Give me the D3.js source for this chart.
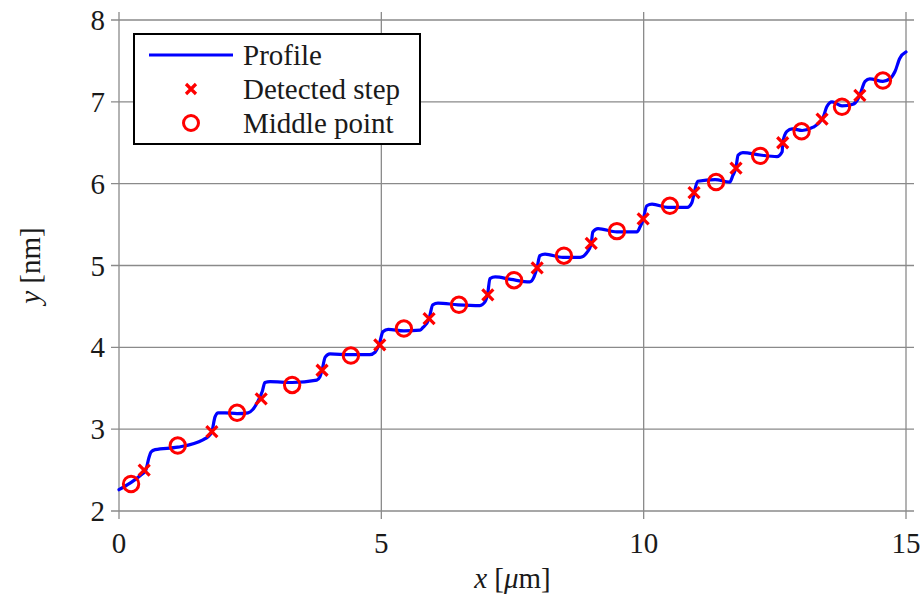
<!DOCTYPE html>
<html><head><meta charset="utf-8"><script src="https://cdn.jsdelivr.net/npm/d3@7"></script></head>
<body style="margin:0">
<svg id="s" width="923" height="596"></svg>
<script>
// ---- data ----
const profileX = [0, 0.21, 0.40, 0.51, 0.57, 0.61, 0.69, 1.12, 1.60, 1.70, 1.77, 1.83, 1.89, 2.02, 2.25, 2.46, 2.55, 2.67, 2.73, 2.78, 2.88, 3.30, 3.77, 3.83, 3.87, 3.93, 4.02, 4.40, 4.78, 4.88, 4.96, 5.03, 5.13, 5.43, 5.74, 5.79, 5.91, 5.98, 6.08, 6.46, 6.88, 6.98, 7.03, 7.07, 7.17, 7.47, 7.83, 7.91, 7.97, 8.02, 8.12, 8.46, 8.79, 8.92, 9.00, 9.03, 9.13, 9.49, 9.87, 9.93, 9.99, 10.06, 10.16, 10.46, 10.83, 10.92, 10.96, 11.03, 11.36, 11.64, 11.70, 11.76, 11.80, 11.89, 12.22, 12.54, 12.64, 12.65, 12.73, 12.83, 13.02, 13.23, 13.42, 13.49, 13.59, 13.78, 13.99, 14.08, 14.14, 14.22, 14.31, 14.56, 14.69, 14.79, 14.88, 15.0];
const profileY = [2.26, 2.34, 2.43, 2.50, 2.65, 2.72, 2.75, 2.78, 2.87, 2.91, 2.97, 3.15, 3.20, 3.20, 3.19, 3.20, 3.24, 3.37, 3.46, 3.57, 3.58, 3.57, 3.60, 3.64, 3.72, 3.88, 3.92, 3.91, 3.91, 3.94, 4.04, 4.19, 4.22, 4.20, 4.21, 4.24, 4.35, 4.52, 4.54, 4.52, 4.51, 4.56, 4.67, 4.84, 4.86, 4.83, 4.80, 4.86, 4.98, 5.12, 5.14, 5.10, 5.10, 5.16, 5.26, 5.41, 5.45, 5.41, 5.41, 5.47, 5.56, 5.73, 5.75, 5.71, 5.71, 5.77, 5.88, 6.03, 6.05, 6.02, 6.10, 6.20, 6.35, 6.38, 6.35, 6.33, 6.39, 6.50, 6.64, 6.67, 6.65, 6.69, 6.81, 6.94, 7.00, 6.95, 6.97, 7.03, 7.12, 7.25, 7.28, 7.25, 7.28, 7.37, 7.53, 7.61];

const stepX = [0.48, 1.77, 2.71, 3.87, 4.97, 5.91, 7.03, 7.97, 9.00, 9.99, 10.96, 11.76, 12.65, 13.40, 14.12];
const stepY = [2.50, 2.97, 3.37, 3.72, 4.03, 4.35, 4.64, 4.97, 5.27, 5.57, 5.89, 6.19, 6.50, 6.79, 7.08];

const midX = [0.23, 1.12, 2.25, 3.30, 4.42, 5.43, 6.48, 7.53, 8.48, 9.49, 10.50, 11.38, 12.22, 13.01, 13.78, 14.56];
const midY = [2.33, 2.80, 3.20, 3.54, 3.90, 4.23, 4.52, 4.82, 5.12, 5.42, 5.73, 6.02, 6.34, 6.64, 6.94, 7.26];

const xTicks = [0, 5, 10, 15];
const yTicks = [2, 3, 4, 5, 6, 7, 8];
const legendLabels = ["Profile", "Detected step", "Middle point"];

// ---- layout ----
const fam = "Liberation Serif";
const svg = d3.select("#s");
const mLeft = 119, mRight = 906, mTop = 20, mBottom = 511;
const x = d3.scaleLinear().domain([0, 15]).range([mLeft, mRight]);
const y = d3.scaleLinear().domain([2, 8]).range([mBottom, mTop]);
const ext = 8;
const gridColor = "#8a8a8a";

svg.append("rect").attr("width", 923).attr("height", 596).attr("fill", "#fff");

// grid lines (also form the frame) with outward tick extensions
svg.selectAll("line.v").data(xTicks).join("line")
  .attr("class", "v")
  .attr("x1", d => x(d)).attr("x2", d => x(d))
  .attr("y1", mTop - ext).attr("y2", mBottom + ext)
  .attr("stroke", gridColor).attr("stroke-width", 1.3);
svg.selectAll("line.h").data(yTicks).join("line")
  .attr("class", "h")
  .attr("y1", d => y(d)).attr("y2", d => y(d))
  .attr("x1", mLeft - ext).attr("x2", mRight + ext)
  .attr("stroke", gridColor).attr("stroke-width", 1.3);

// tick labels
svg.selectAll("text.xt").data(xTicks).join("text")
  .attr("class", "xt")
  .attr("x", d => x(d)).attr("y", mBottom + 42)
  .attr("font-size", 29).attr("font-family", d => `"${fam}"`).attr("fill", "#1a1a1a")
  .attr("text-anchor", "middle")
  .text(d => d);
svg.selectAll("text.yt").data(yTicks).join("text")
  .attr("class", "yt")
  .attr("x", mLeft - 14).attr("y", d => y(d) + 10)
  .attr("font-size", 29).attr("font-family", d => `"${fam}"`).attr("fill", "#1a1a1a")
  .attr("text-anchor", "end")
  .text(d => d);

// axis labels
const xl = svg.append("text").attr("x", (mLeft + mRight) / 2).attr("y", 588)
  .attr("font-size", 29).attr("font-family", `"${fam}"`).attr("fill", "#1a1a1a")
  .attr("text-anchor", "middle");
xl.append("tspan").attr("font-style", "italic").text("x");
xl.append("tspan").text(" [");
xl.append("tspan").attr("font-style", "italic").text("μ");
xl.append("tspan").text("m]");

const yl = svg.append("text")
  .attr("transform", `translate(40,${(mTop + mBottom) / 2}) rotate(-90)`)
  .attr("font-size", 29).attr("font-family", `"${fam}"`).attr("fill", "#1a1a1a")
  .attr("text-anchor", "middle");
yl.append("tspan").attr("font-style", "italic").text("y");
yl.append("tspan").text(" [nm]");

// profile line
const profile = profileX.map((d, i) => [d, profileY[i]]);
const line = d3.line().x(d => x(d[0])).y(d => y(d[1])).curve(d3.curveMonotoneX);
svg.append("path").datum(profile)
  .attr("d", line).attr("fill", "none")
  .attr("stroke", "#0000ff").attr("stroke-width", 3.2)
  .attr("stroke-linejoin", "round").attr("stroke-linecap", "round");

// crosses
const cs = 5.5;
const steps = stepX.map((d, i) => [d, stepY[i]]);
svg.selectAll("path.cross").data(steps).join("path")
  .attr("class", "cross")
  .attr("stroke", "#ff0000").attr("stroke-width", 3.2)
  .attr("d", d => {
    const cx = x(d[0]), cy = y(d[1]);
    return `M${cx - cs},${cy - cs}L${cx + cs},${cy + cs}M${cx - cs},${cy + cs}L${cx + cs},${cy - cs}`;
  });

// circles
const mids = midX.map((d, i) => [d, midY[i]]);
svg.selectAll("circle.mid").data(mids).join("circle")
  .attr("class", "mid")
  .attr("cx", d => x(d[0])).attr("cy", d => y(d[1])).attr("r", 7.7)
  .attr("fill", "none").attr("stroke", "#ff0000").attr("stroke-width", 3);

// legend
svg.append("rect").attr("x", 134).attr("y", 34).attr("width", 286).attr("height", 110)
  .attr("fill", "#fff").attr("stroke", "#000").attr("stroke-width", 2);
const rowY = [55, 89, 123];
svg.append("line").attr("x1", 149).attr("x2", 233).attr("y1", rowY[0]).attr("y2", rowY[0])
  .attr("stroke", "#0000ff").attr("stroke-width", 3.2);
const lcx = 191, lcs = 5;
svg.append("path")
  .attr("d", `M${lcx - lcs},${rowY[1] - lcs}L${lcx + lcs},${rowY[1] + lcs}M${lcx - lcs},${rowY[1] + lcs}L${lcx + lcs},${rowY[1] - lcs}`)
  .attr("stroke", "#ff0000").attr("stroke-width", 3.2);
svg.append("circle").attr("cx", lcx).attr("cy", rowY[2]).attr("r", 7.5)
  .attr("fill", "none").attr("stroke", "#ff0000").attr("stroke-width", 3);
svg.selectAll("text.lab").data(legendLabels).join("text")
  .attr("class", "lab")
  .attr("x", 243).attr("y", (d, i) => rowY[i] + 10)
  .attr("font-size", 29).attr("font-family", d => `"${fam}"`).attr("fill", "#1a1a1a")
  .text(d => d);
</script>
</body>
</html>
